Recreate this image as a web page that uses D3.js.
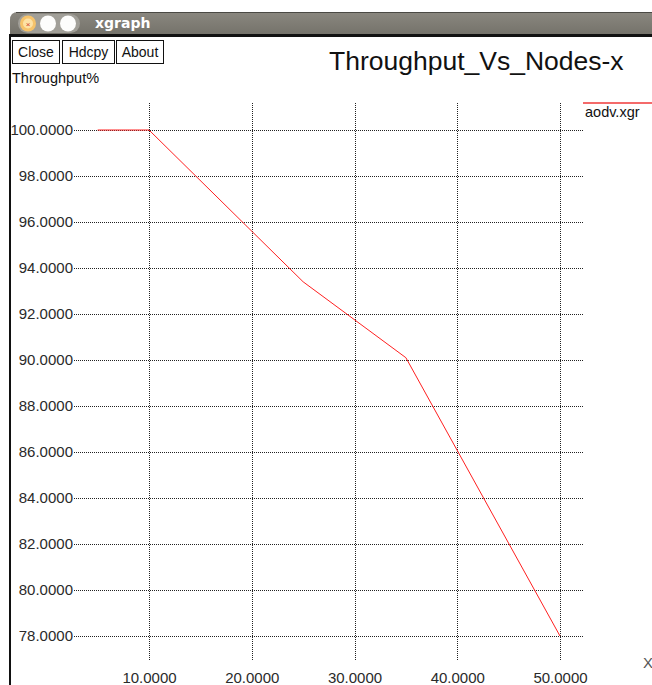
<!DOCTYPE html>
<html>
<head>
<meta charset="utf-8">
<script src="https://cdn.jsdelivr.net/npm/d3@7"></script>
<style>
  body { margin: 0; background: #fff; }
  svg { display: block; }
</style>
</head>
<body>
<div id="chart"></div>
<script>
// data
var nodes = [5, 10, 25, 35, 50];
var throughput = [100, 100, 93.4, 90.1, 78];
var xTicks = [10, 20, 30, 40, 50];
var yTicks = [78, 80, 82, 84, 86, 88, 90, 92, 94, 96, 98, 100];
var buttons = ["Close", "Hdcpy", "About"];
var buttonX = [12, 62, 116];
var buttonW = [47, 52, 47];

var W = 652, H = 685;
var font = "'Liberation Sans', Arial, Helvetica, sans-serif";

var svg = d3.select("#chart").append("svg")
  .attr("width", W)
  .attr("height", H);

// ---- window frame ----
var grad = svg.append("defs").append("linearGradient")
  .attr("id", "bar").attr("x1", 0).attr("x2", 0).attr("y1", 0).attr("y2", 1);
grad.append("stop").attr("offset", "0%").attr("stop-color", "#8a877f");
grad.append("stop").attr("offset", "100%").attr("stop-color", "#75736b");

svg.append("path")
  .attr("d", "M10,20 Q10,12 18,12 L652,12 L652,34 L10,34 Z")
  .attr("fill", "url(#bar)");
svg.append("line") // dark top edge
  .attr("x1", 16).attr("x2", W).attr("y1", 12.5).attr("y2", 12.5)
  .attr("stroke", "#4a4944").attr("stroke-width", 1);
svg.append("rect") // black line under title bar
  .attr("x", 10).attr("y", 34).attr("width", W - 10).attr("height", 3)
  .attr("fill", "#111");
svg.append("rect") // left border
  .attr("x", 9).attr("y", 34).attr("width", 2).attr("height", H - 34)
  .attr("fill", "#111");

// window buttons
svg.append("rect")
  .attr("x", 18).attr("y", 14).attr("width", 62).attr("height", 19).attr("rx", 9.5)
  .attr("fill", "#a19f98");
svg.append("circle").attr("cx", 28).attr("cy", 23.5).attr("r", 8).attr("fill", "#f6c36a");
svg.append("circle").attr("cx", 28).attr("cy", 23.5).attr("r", 5).attr("fill", "#fde2a6");
svg.append("text").attr("x", 28).attr("y", 26.5).attr("text-anchor", "middle")
  .attr("font-family", font).attr("font-size", 8).attr("fill", "#d0402a").text("×");
svg.append("circle").attr("cx", 48).attr("cy", 23.5).attr("r", 8).attr("fill", "#fdfdfc");
svg.append("circle").attr("cx", 68).attr("cy", 23.5).attr("r", 8).attr("fill", "#fdfdfc");
svg.append("text")
  .attr("x", 95).attr("y", 28)
  .attr("font-family", "'DejaVu Sans', sans-serif").attr("font-weight", "bold")
  .attr("font-size", 14).attr("fill", "#fff")
  .text("xgraph");

// ---- xgraph buttons ----
var btn = svg.append("g").selectAll("g")
  .data(buttons)
  .enter().append("g");
btn.append("rect")
  .attr("x", function (d, i) { return buttonX[i] + 0.5; })
  .attr("y", 40.5)
  .attr("width", function (d, i) { return buttonW[i]; })
  .attr("height", 23)
  .attr("fill", "#fff").attr("stroke", "#111");
btn.append("text")
  .attr("x", function (d, i) { return buttonX[i] + buttonW[i] / 2 + 0.5; })
  .attr("y", 57)
  .attr("text-anchor", "middle")
  .attr("font-family", font).attr("font-size", 14).attr("fill", "#111")
  .text(function (d) { return d; });

// titles
svg.append("text")
  .attr("x", 329).attr("y", 70)
  .attr("font-family", font).attr("font-size", 26.5).attr("fill", "#111")
  .text("Throughput_Vs_Nodes-x");
svg.append("text")
  .attr("x", 12).attr("y", 83)
  .attr("font-family", font).attr("font-size", 14.5).attr("fill", "#111")
  .text("Throughput%");
svg.append("text")
  .attr("x", 643).attr("y", 668)
  .attr("font-family", font).attr("font-size", 15).attr("fill", "#555")
  .text("X");

// ---- scales ----
var x = d3.scaleLinear().domain([10, 50]).range([149, 560]);
var y = d3.scaleLinear().domain([78, 100]).range([636, 130]);
var fmt = d3.format(".4f");

// horizontal grid + y labels
var yAxis = d3.axisLeft(y)
  .tickValues(yTicks)
  .tickFormat(fmt)
  .tickSize(-(583 - 74))
  .tickPadding(1);
var gy = svg.append("g")
  .attr("class", "y axis")
  .attr("transform", "translate(74,0)")
  .call(yAxis);

// vertical grid + x labels
var xAxis = d3.axisBottom(x)
  .tickValues(xTicks)
  .tickFormat(fmt)
  .tickSize(-(660 - 103))
  .tickPadding(12.5);
var gx = svg.append("g")
  .attr("class", "x axis")
  .attr("transform", "translate(0,660)")
  .call(xAxis);

[gx, gy].forEach(function (g) {
  g.select(".domain").remove();
  g.attr("font-family", font).attr("font-size", 15);
  g.selectAll(".tick line")
    .attr("stroke", "#222")
    .attr("stroke-dasharray", "1,1")
    .attr("shape-rendering", "crispEdges");
  g.selectAll(".tick text").attr("fill", "#2a2a2a");
});

// ---- data line ----
var pts = nodes.map(function (d, i) { return [d, throughput[i]]; });
var line = d3.line()
  .x(function (d) { return x(d[0]); })
  .y(function (d) { return y(d[1]); });
svg.append("path")
  .datum(pts)
  .attr("d", line)
  .attr("fill", "none")
  .attr("stroke", "#ff2020")
  .attr("stroke-width", 1);

// legend
svg.append("rect")
  .attr("x", 583).attr("y", 102).attr("width", W - 583).attr("height", 2)
  .attr("fill", "#f46a6a");
svg.append("text")
  .attr("x", 585).attr("y", 117)
  .attr("font-family", font).attr("font-size", 14.5).attr("fill", "#111")
  .text("aodv.xgr");
</script>
</body>
</html>
